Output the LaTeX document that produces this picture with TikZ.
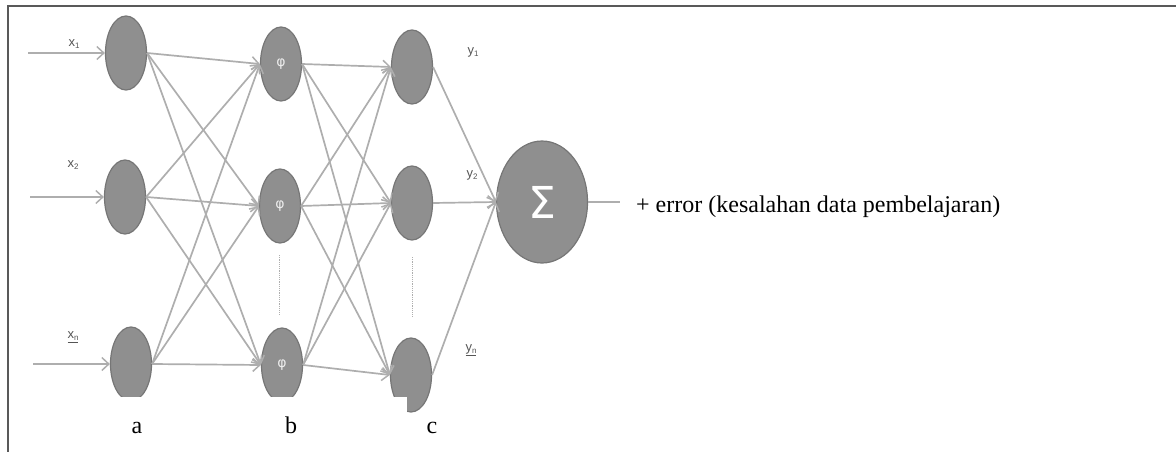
\documentclass[tikz,border=0pt]{standalone}
\usepackage{fontspec}
\setmainfont{Liberation Serif}
\newfontfamily\lblfont{Liberation Sans}
\newfontfamily\symfont{DejaVu Sans}
\usetikzlibrary{arrows.meta,shapes.geometric}
\definecolor{nodefill}{HTML}{8F8F8F}
\definecolor{nodeedge}{HTML}{767676}
\definecolor{wire}{HTML}{AEAEAE}
\definecolor{lbl}{HTML}{555555}
\definecolor{framec}{HTML}{595959}
\tikzset{
  neuron/.style={ellipse, draw=nodeedge, line width=1.2pt, fill=nodefill, minimum width=41pt, minimum height=74pt, inner sep=0pt},
  sumnode/.style={ellipse, draw=nodeedge, line width=1.2pt, fill=nodefill, minimum width=91pt, minimum height=122pt, inner sep=0pt},
  wirearrow/.style={draw=wire, line width=1.7pt, -{Straight Barb[length=7pt,width=13pt,line width=1.5pt]}},
  wireline/.style={draw=wire, line width=1.7pt},
  dotline/.style={draw=wire, line width=0.8pt, dash pattern=on 1.2pt off 1pt},
  smalllbl/.style={text=lbl, font=\lblfont\fontsize{13}{14}\selectfont, inner sep=0pt},
  philbl/.style={text=white!85!gray, font=\symfont\fontsize{14}{15}\selectfont},
  biglbl/.style={text=black, font=\fontsize{24}{28}\selectfont, inner sep=0pt},
}
\newcommand{\subt}[1]{{\fontsize{8}{9}\selectfont\raisebox{-2pt}{#1}}}
\begin{document}
\begin{tikzpicture}[x=1pt,y=-1pt]
\useasboundingbox (0,0) rectangle (1176,452);
% nodes
\node[neuron] (a1) at (126,53) {};
\node[neuron] (a2) at (125,197) {};
\node[neuron] (a3) at (131,364) {};
\node[neuron, philbl] (b1) at (281,64) {φ};
\node[neuron, philbl] (b2) at (280,206) {φ};
\node[neuron, philbl] (b3) at (282,365) {φ};
\node[neuron] (c1) at (412,67) {};
\node[neuron] (c2) at (412,203) {};
\node[neuron] (c3) at (411,375) {};
\node[sumnode, text=white, font=\symfont\fontsize{44}{48}\selectfont] (s) at (542,202) {Σ};
% inputs
\coordinate (i1) at (28,53);
\coordinate (i2) at (30,197);
\coordinate (i3) at (33,364);
\coordinate (o) at (620,202);
\draw[wirearrow] (i1) -- (a1.west);
\draw[wirearrow] (i2) -- (a2.west);
\draw[wirearrow] (i3) -- (a3.west);
% connections
\foreach \i in {1,2,3}{
  \foreach \j in {1,2,3}{
    \draw[wirearrow] (a\i.east) -- (b\j.west);
    \draw[wirearrow] (b\i.east) -- (c\j.west);
  }
  \draw[wirearrow] (c\i.east) -- (s.west);
}
\draw[wireline] (s.east) -- (o);
% dotted
\coordinate (db1) at (279,255); \coordinate (db2) at (279,315);
\coordinate (dc1) at (412,257); \coordinate (dc2) at (412,317);
\draw[dotline] (db1) -- (db2);
\draw[dotline] (dc1) -- (dc2);
% labels
\node[smalllbl] (lx1) at (74,44) {x\subt{1}};
\node[smalllbl] (lx2) at (73,165) {x\subt{2}};
\node[smalllbl] (lxn) at (73,337) {\underline{x\subt{n}}};
\node[smalllbl] (ly1) at (473,52) {y\subt{1}};
\node[smalllbl] (ly2) at (472,175) {y\subt{2}};
\node[smalllbl] (lyn) at (471,350) {\underline{y\subt{n}}};
% white mask of the cropped figure
\fill[white] (9,397) rectangle (407,452);
% frame
\draw[framec, line width=1.6pt] (8,452) -- (8,6) -- (1176,6);
% captions
\node[biglbl, anchor=base] (la) at (137,433) {a};
\node[biglbl, anchor=base] (lb) at (291,433) {b};
\node[biglbl, anchor=base] (lc) at (432,433) {c};
\node[biglbl, anchor=base west] (err) at (636,212) {+ error (kesalahan data pembelajaran)};
\end{tikzpicture}
\end{document}
